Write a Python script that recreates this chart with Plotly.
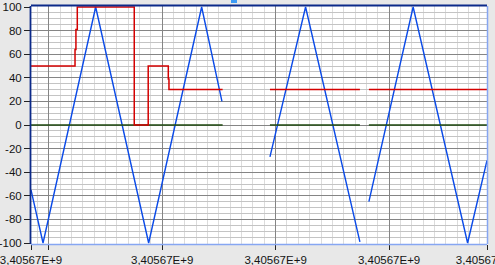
import plotly.graph_objects as go

# x axis in seconds (relative); labels show the absolute timestamp 3,40567E+9
x_min, x_max = 8.44, 48.63
tick_vals = [8.44, 10, 20, 30, 40, 48.63]
tick_text = ["3,40567E+9", "", "3,40567E+9", "3,40567E+9", "3,40567E+9", "3,40567E+9"]
y_ticks = [100, 80, 60, 40, 20, 0, -20, -40, -60, -80, -100]
y_labels = ["100", "80", "60", "40", "20", "0", "-20", "-40", "-60", "-80", "-100"]

# blue triangle signal (vertices), None = gap
blue_x = [8.44, 9.50, 14.14, 18.81, 23.48, 25.27, None,
          29.50, 32.64, 37.43, None,
          38.22, 42.12, 46.92, 48.63]
blue_y = [-55, -100, 100, -100, 100, 20, None,
          -27, 100, -99, None,
          -65, 100, -100, -30]

# red step signal
red_x = [8.44, 12.32, 12.40, 12.52, 17.54, 18.77, 20.54, 20.60, 25.33, None,
         29.50, 37.43, None,
         38.22, 48.63]
red_y = [50, 64, 81, 100, 0, 50, 39, 30, 30, None,
         30, 30, None,
         30, 30]

# green zero signal
green_x = [8.44, 25.33, None, 29.50, 37.43, None, 38.22, 48.63]
green_y = [0, 0, None, 0, 0, None, 0, 0]

fig = go.Figure()
fig.add_trace(go.Scatter(x=blue_x, y=blue_y, mode="lines",
                         line=dict(color="#0a4ae8", width=1.4), connectgaps=False))
fig.add_trace(go.Scatter(x=green_x, y=green_y, mode="lines",
                         line=dict(color="#1f4a10", width=1.5), connectgaps=False))
fig.add_trace(go.Scatter(x=red_x, y=red_y, mode="lines",
                         line=dict(color="#d40000", width=1.5, shape="hv"),
                         connectgaps=False))

font = dict(family="Liberation Sans, Arial, sans-serif", size=11.5, color="#141414")

fig.update_layout(
    width=495, height=265,
    margin=dict(l=31, r=8, t=6, b=21, autoexpand=False),
    paper_bgcolor="#e8e8e8", plot_bgcolor="#ffffff",
    showlegend=False,
    font=font,
    xaxis=dict(range=[x_min, x_max], tickmode="array", tickvals=tick_vals,
               ticktext=tick_text, showgrid=True, gridcolor="#858585", gridwidth=1,
               ticks="outside", ticklen=5, tickcolor="#222222", tickwidth=1,
               ticklabelstandoff=0, automargin=False, ticklabeloverflow="allow",
               zeroline=False, showline=False, tickfont=font,
               minor=dict(tickmode="linear", tick0=0, dtick=1, showgrid=True,
                          gridcolor="#dcdcdc", gridwidth=1, ticks="")),
    yaxis=dict(range=[-100.85, 100.85], tickmode="array", tickvals=y_ticks,
               ticktext=y_labels, automargin=False, ticklabeloverflow="allow",
               showgrid=True, gridcolor="#858585", gridwidth=1,
               ticks="outside", ticklen=6, tickcolor="#222222", tickwidth=1,
               ticklabelstandoff=0,
               zeroline=False, showline=False, tickfont=font,
               minor=dict(tickmode="linear", tick0=0, dtick=5, showgrid=True,
                          gridcolor="#c4c4c4", gridwidth=1, ticks="")),
    shapes=[
        dict(type="line", xref="paper", yref="paper", x0=0, x1=1, y0=-0.5 / 238, y1=-0.5 / 238,
             line=dict(color="#86a6f2", width=1.5)),
        dict(type="line", xref="paper", yref="paper", x0=1 + 0.5 / 456, x1=1 + 0.5 / 456, y0=0, y1=1,
             line=dict(color="#86a6f2", width=1.5)),
        dict(type="line", xref="paper", yref="paper", x0=0, x1=1, y0=1 + 0.5 / 238, y1=1 + 0.5 / 238,
             line=dict(color="#0c2a8a", width=1.8)),
        dict(type="line", xref="paper", yref="paper", x0=-0.5 / 456, x1=-0.5 / 456, y0=0, y1=1,
             line=dict(color="#0c2a8a", width=1.8)),
        dict(type="rect", xref="paper", yref="paper", x0=(231 - 31) / 456, x1=(237 - 31) / 456,
             y0=(244 - 3) / 238, y1=(244 - 0) / 238, fillcolor="#3d9bf5", line=dict(width=0)),
    ],
)

fig.write_html("out.html")
